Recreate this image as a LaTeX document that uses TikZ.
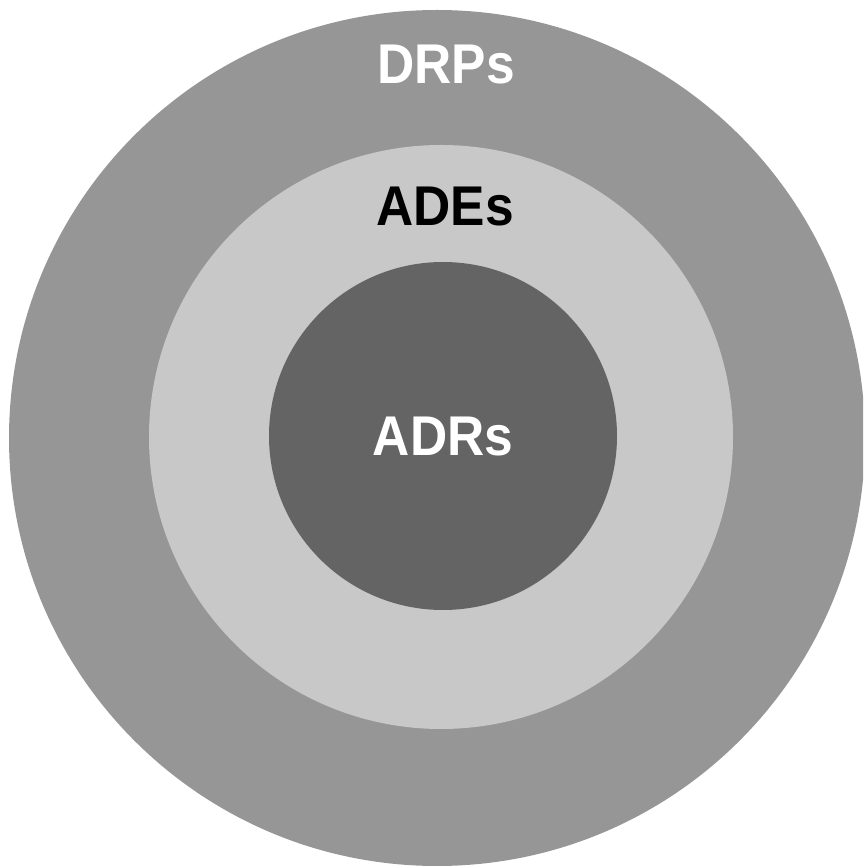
\documentclass[tikz,border=0pt]{standalone}
\usepackage{fontspec}
\setmainfont{Liberation Sans}
\usetikzlibrary{positioning}

\definecolor{drpgray}{HTML}{969696}
\definecolor{adegray}{HTML}{C8C8C8}
\definecolor{adrgray}{HTML}{646464}

\begin{document}
\begin{tikzpicture}[
    x=1pt, y=1pt,
    % --- STYLES ---
    ring/.style={circle, draw=none, inner sep=0pt},
    tag/.style={font=\fontsize{56}{60}\selectfont\bfseries, inner sep=0pt, xscale=0.92}
]
    \useasboundingbox (0,0) rectangle (863,868);
    \clip (0,0) rectangle (863,868);

    % circles, outer to inner
    \node[ring, fill=drpgray, minimum size=856pt] (drps) at (437,430) {};
    \node[ring, fill=adegray, minimum size=584pt] (ades) at (441,431) {};
    \node[ring, fill=adrgray, minimum size=348pt] (adrs) at (443,432) {};

    % labels
    \node[tag, text=white] (drplabel) at (446,803) {DRPs};
    \node[tag, text=black] (adelabel) at (445,661) {ADEs};
    \node[tag, text=white] (adrlabel) at (443,431) {ADRs};

\end{tikzpicture}
\end{document}
